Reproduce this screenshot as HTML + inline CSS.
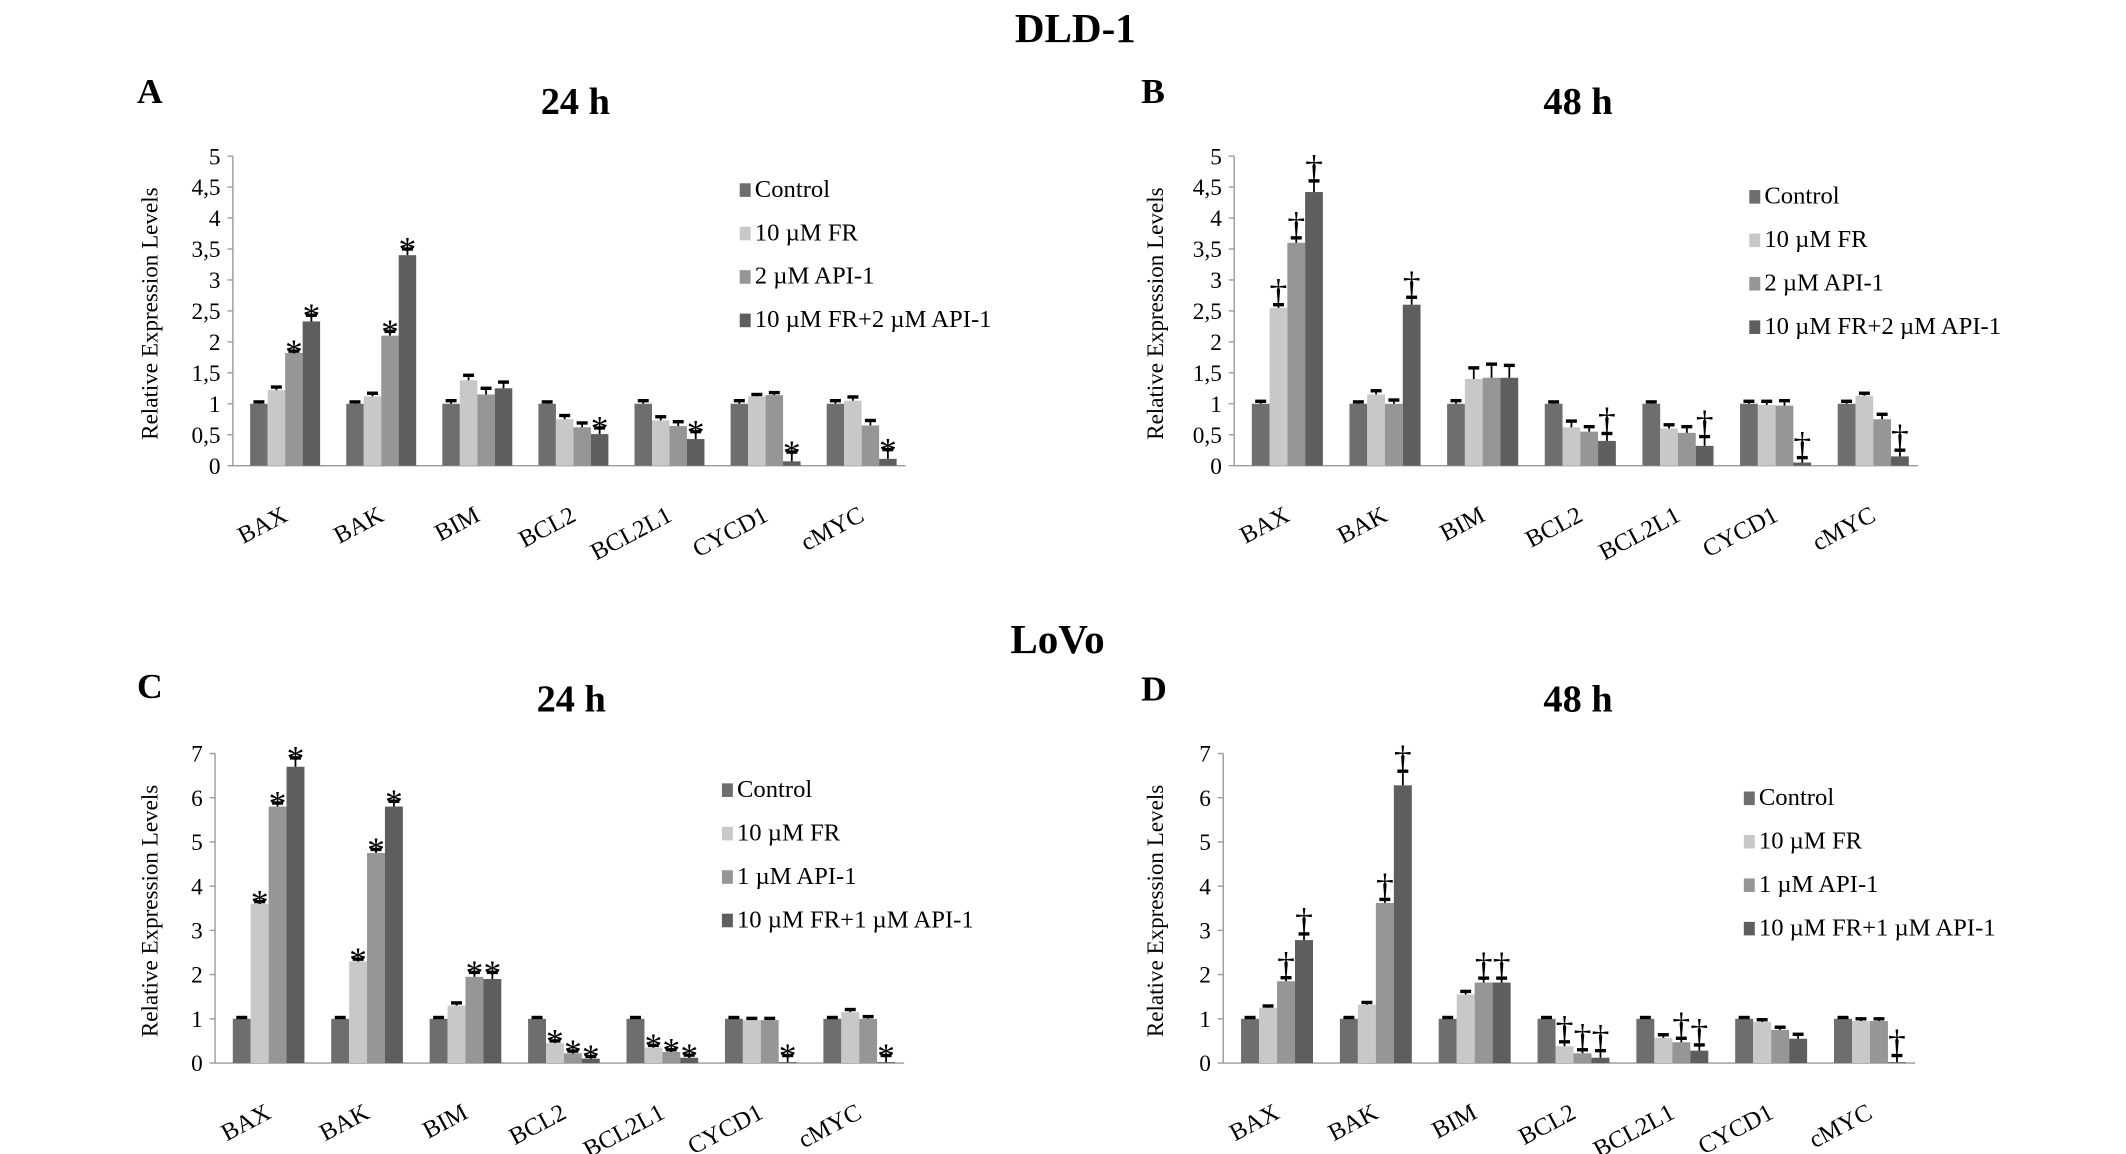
<!DOCTYPE html>
<html><head><meta charset="utf-8"><style>
html,body{margin:0;padding:0;background:#fff}
svg{display:block}
text{font-family:"Liberation Serif",serif;fill:#000}
</style></head><body>
<svg id="fig" width="2126" height="1154" viewBox="0 0 1552 850" preserveAspectRatio="none" xmlns="http://www.w3.org/2000/svg">
<text x="785" y="31" font-size="30" font-weight="bold" text-anchor="middle">DLD-1</text>
<text x="772" y="481" font-size="30" font-weight="bold" text-anchor="middle">LoVo</text>
</svg>
<script>
const categories=["BAX","BAK","BIM","BCL2","BCL2L1","CYCD1","cMYC"];
const seriesColors=["#6e6e6e","#c8c8c8","#969696","#5e5e5e"];
// Panel A (DLD-1 24h)
const aControl=[1,1,1,1,1,1,1];
const aFR=[1.22,1.12,1.38,0.75,0.73,1.12,1.05];
const aAPI=[1.82,2.1,1.15,0.62,0.64,1.14,0.65];
const aCombo=[2.33,3.4,1.25,0.51,0.43,0.07,0.11];
const aErr=[[0.03,0.03,0.05,0.03,0.05,0.05,0.05],[0.05,0.05,0.08,0.06,0.06,0.03,0.06],[0.03,0.07,0.1,0.07,0.07,0.04,0.08],[0.1,0.1,0.1,0.1,0.12,0.15,0.15]];
const aMarks=[[],[],[0,1],[0,1,3,4,5,6]];
// Panel B (DLD-1 48h)
const bControl=[1,1,1,1,1,1,1];
const bFR=[2.55,1.15,1.4,0.62,0.6,0.98,1.13];
const bAPI=[3.6,1.0,1.42,0.55,0.53,0.97,0.75];
const bCombo=[4.42,2.6,1.42,0.4,0.32,0.05,0.15];
const bErr=[[0.04,0.03,0.05,0.03,0.03,0.04,0.04],[0.05,0.06,0.18,0.1,0.06,0.06,0.04],[0.08,0.06,0.22,0.08,0.1,0.08,0.08],[0.18,0.12,0.2,0.12,0.15,0.08,0.1]];
const bMarks=[[],[0],[0],[0,1,3,4,5,6]];
// Panel C (LoVo 24h)
const cControl=[1,1,1,1,1,1,1];
const cFR=[3.6,2.3,1.3,0.45,0.35,0.97,1.15];
const cAPI=[5.8,4.75,1.95,0.22,0.25,0.97,1.0];
const cCombo=[6.7,5.8,1.9,0.1,0.12,0.02,0.02];
const cErr=[[0.03,0.03,0.03,0.03,0.03,0.03,0.03],[0.05,0.05,0.06,0.05,0.05,0.04,0.06],[0.08,0.08,0.1,0.05,0.05,0.04,0.05],[0.2,0.12,0.15,0.05,0.06,0.15,0.15]];
const cMarks=[[],[0,1,3,4],[0,1,2,3,4],[0,1,2,3,4,5,6]];
// Panel D (LoVo 48h)
const dControl=[1,1,1,1,1,1,1];
const dFR=[1.25,1.32,1.55,0.38,0.57,0.93,0.95];
const dAPI=[1.85,3.62,1.82,0.22,0.47,0.75,0.95];
const dCombo=[2.78,6.28,1.82,0.12,0.28,0.55,0.02];
const dErr=[[0.03,0.03,0.03,0.03,0.03,0.03,0.03],[0.04,0.05,0.07,0.1,0.07,0.05,0.05],[0.08,0.08,0.1,0.08,0.09,0.06,0.05],[0.14,0.32,0.1,0.16,0.13,0.1,0.15]];
const dMarks=[[],[3],[0,1,2,3,4],[0,1,2,3,4,6]];
const aTicks=["0","0,5","1","1,5","2","2,5","3","3,5","4","4,5","5"];
const cTicks=["0","1","2","3","4","5","6","7"];
const legendA=["Control","10 µM FR","2 µM API-1","10 µM FR+2 µM API-1"];
const legendC=["Control","10 µM FR","1 µM API-1","10 µM FR+1 µM API-1"];

const NS="http://www.w3.org/2000/svg";
const svg=document.getElementById("fig");
function mk(tag,attrs,parent,txt){const e=document.createElementNS(NS,tag);for(const k in attrs)e.setAttribute(k,attrs[k]);if(txt!==undefined)e.textContent=txt;(parent||svg).appendChild(e);return e;}

function panel(p){
  const g=mk("g",{});
  
  
  const x0=p.ax,x1=p.axEnd,y0=p.y0,yT=p.yTop,max=p.max;
  const Y=v=>y0-(v/max)*(y0-yT);
  const cw=(x1-x0)/categories.length;
  const bw=cw*0.182, off=cw*0.18;
  const t1=mk("text",{x:p.letterX,y:p.letterY,"font-size":26,"font-weight":"bold"},g,p.id);
  
  const t2=mk("text",{x:p.titleX,y:p.titleY,"font-size":28,"font-weight":"bold","text-anchor":"middle"},g,p.title);
  
  const ax=mk("line",{x1:x0,y1:yT,x2:x0,y2:y0,stroke:"#999","stroke-width":1},g);
  
  const bx=mk("line",{x1:x0,y1:y0,x2:x1,y2:y0,stroke:"#999","stroke-width":1},g);
  
  p.ticks.forEach((t,i)=>{
    const v=i*p.step,y=Y(v);
    mk("line",{x1:x0-4,y1:y,x2:x0,y2:y,stroke:"#999"},g);
    const tt=mk("text",{x:x0-9,y:y+6,"font-size":17,"text-anchor":"end"},g,t);
    
  });
  const yl=mk("text",{x:0,y:0,"font-size":17,"text-anchor":"middle",transform:`translate(${p.ylX},${(y0+yT)/2+2}) rotate(-90)`},g,"Relative Expression Levels");
  
  categories.forEach((c,i)=>{
    const cx=x0+cw*(i+0.5);
    const ct=mk("text",{x:0,y:0,"font-size":18,"text-anchor":"end",transform:`translate(${cx+6},${y0+40}) rotate(-28)`},g,c);
    
  });
  p.series.forEach((s,si)=>{
    s.forEach((v,i)=>{
      const bxp=x0+cw*i+off+si*bw;
      const r=mk("rect",{x:bxp,y:Y(v),width:bw,height:y0-Y(v),fill:seriesColors[si]},g);
      
      
      const e=p.err[si][i],cx=bxp+bw/2,yt=Y(v+e);
      mk("line",{x1:cx,y1:Y(v),x2:cx,y2:yt,stroke:"#000","stroke-width":1.3},g);
      mk("line",{x1:cx-4,y1:yt,x2:cx+4,y2:yt,stroke:"#000","stroke-width":2.5},g);
      if(p.marks[si].includes(i)){
        const m=mk("text",{x:cx,y:p.sym==="*"?yt+9:yt-1,"font-size":p.sym==="*"?26:26,"text-anchor":"middle"},g,p.sym);
        
      }
    });
  });
  p.legend.forEach((l,i)=>{
    const ly=p.legY+i*32;
    const sq=mk("rect",{x:p.legX,y:ly-10,width:8,height:10,fill:seriesColors[i]},g);
    
    const lt=mk("text",{x:p.legX+11,y:ly,"font-size":18},g,l);
    
  });
}
panel({id:"A",title:"24 h",letterX:100,letterY:76,titleX:420,titleY:84,ax:170,axEnd:661,y0:343,yTop:115,max:5,step:0.5,ticks:aTicks,ylX:115,
  series:[aControl,aFR,aAPI,aCombo],err:aErr,marks:aMarks,sym:"*",legend:legendA,legX:540,legY:145});
panel({id:"B",title:"48 h",letterX:833,letterY:76,titleX:1152,titleY:84,ax:901,axEnd:1400,y0:343,yTop:115,max:5,step:0.5,ticks:aTicks,ylX:849,
  series:[bControl,bFR,bAPI,bCombo],err:bErr,marks:bMarks,sym:"†",legend:legendA,legX:1277,legY:150});
panel({id:"C",title:"24 h",letterX:100,letterY:514,titleX:417,titleY:524,ax:157,axEnd:660,y0:783,yTop:555,max:7,step:1,ticks:cTicks,ylX:115,
  series:[cControl,cFR,cAPI,cCombo],err:cErr,marks:cMarks,sym:"*",legend:legendC,legX:527,legY:587});
panel({id:"D",title:"48 h",letterX:833,letterY:516,titleX:1152,titleY:524,ax:893,axEnd:1398,y0:783,yTop:555,max:7,step:1,ticks:cTicks,ylX:849,
  series:[dControl,dFR,dAPI,dCombo],err:dErr,marks:dMarks,sym:"†",legend:legendC,legX:1273,legY:593});
</script>
</body></html>
